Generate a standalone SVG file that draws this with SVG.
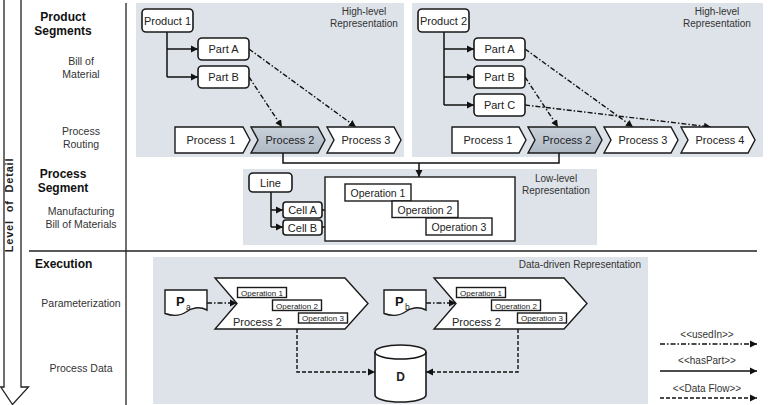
<svg xmlns="http://www.w3.org/2000/svg" width="768" height="405" viewBox="0 0 768 405">
<defs>
<marker id="ah" markerUnits="userSpaceOnUse" markerWidth="8" markerHeight="8" refX="7" refY="4" orient="auto">
<path d="M0,0.5 L7,4 L0,7.5 Z" fill="#111"/>
</marker>
<linearGradient id="hl" x1="0" y1="0" x2="0" y2="1">
<stop offset="0" stop-color="#c9d1da"/>
<stop offset="1" stop-color="#aeb9c5"/>
</linearGradient>
<style>
text{font-family:"Liberation Sans",Arial,sans-serif;fill:#222}
.panel{fill:#dee3e9}
.box{fill:#fff;stroke:#1a1a1a;stroke-width:1.6}
.sq{fill:#fff;stroke:#1a1a1a;stroke-width:1.4}
.n{font-size:11px;text-anchor:middle}
.op{font-size:10.5px;text-anchor:middle}
.sop{font-size:8px;text-anchor:middle}
.side{font-size:10.5px;text-anchor:middle;fill:#333}
.head{font-size:12px;font-weight:bold;text-anchor:middle;fill:#111}
.headl{font-size:12px;font-weight:bold;text-anchor:start;fill:#111}
.lab{font-size:10px;text-anchor:middle;fill:#333}
.labr{font-size:10px;text-anchor:end;fill:#333}
.has{fill:none;stroke:#111;stroke-width:1.5;marker-end:url(#ah)}
.used{fill:none;stroke:#111;stroke-width:1.4;stroke-dasharray:5 2 1.5 2;marker-end:url(#ah)}
.flow{fill:none;stroke:#111;stroke-width:1.4;stroke-dasharray:4 2;marker-end:url(#ah)}
.plain{fill:none;stroke:#111;stroke-width:1.5}
.rule{fill:none;stroke:#222;stroke-width:1.3}
.pl{font-size:13px;font-weight:bold;fill:#111}
.sub{font-size:8.5px;fill:#222}
</style>
</defs>

<!-- left axis -->
<g id="axis">
<path d="M4,-2 V387 H28.5 L12.5,404.5 L0.8,387 H4" fill="#fff"/>
<path d="M4,-2 V387 H0.8 L12.5,404.5 L28.5,387 H21 V-2" fill="none" stroke="#222" stroke-width="1.3"/>
<text transform="translate(13,205) rotate(-90)" font-size="11" font-weight="bold" text-anchor="middle" letter-spacing="0.8" word-spacing="4" fill="#111">Level of Detail</text>
</g>
<g id="grid">
<line class="rule" x1="126" y1="3" x2="126" y2="405"/>
<line class="rule" x1="29" y1="251" x2="757" y2="251"/>
</g>

<!-- side labels -->
<g id="labels">
<text class="head" x="63" y="21">Product</text>
<text class="head" x="63" y="35">Segments</text>
<text class="side" x="81" y="65">Bill of</text>
<text class="side" x="81" y="78">Material</text>
<text class="side" x="81" y="135">Process</text>
<text class="side" x="81" y="148">Routing</text>
<text class="head" x="63" y="178">Process</text>
<text class="head" x="63" y="192">Segment</text>
<text class="side" x="81" y="215">Manufacturing</text>
<text class="side" x="81" y="228">Bill of Materials</text>
<text class="headl" x="35" y="268">Execution</text>
<text class="side" x="81" y="307">Parameterization</text>
<text class="side" x="81" y="372">Process Data</text>
</g>

<!-- panels -->
<g id="panel-high-1">
<rect class="panel" x="136" y="3" width="268" height="154"/>
<text class="lab" x="364" y="15">High-level</text>
<text class="lab" x="364" y="27">Representation</text>
</g>
<g id="panel-high-2">
<rect class="panel" x="412" y="3" width="351" height="154"/>
<text class="lab" x="717" y="15">High-level</text>
<text class="lab" x="717" y="27">Representation</text>
</g>
<g id="panel-low">
<rect class="panel" x="243" y="169" width="354" height="76"/>
<text class="lab" x="556" y="182">Low-level</text>
<text class="lab" x="556" y="194">Representation</text>
</g>
<g id="panel-data">
<rect class="panel" x="153" y="257" width="495" height="147"/>
<text class="labr" x="641" y="268">Data-driven Representation</text>
</g>

<!-- connectors -->
<g id="connectors">
<path class="plain" d="M167,32 V77"/>
<path class="has" d="M167,49 H198"/>
<path class="has" d="M167,77 H198"/>
<path class="plain" d="M444,32 V105"/>
<path class="has" d="M444,49 H474"/>
<path class="has" d="M444,77 H474"/>
<path class="has" d="M444,105 H474"/>
<path class="used" d="M249,49 L356,127"/>
<path class="used" d="M249,77 L282,127"/>
<path class="used" d="M525,49 L633,127"/>
<path class="used" d="M525,77 L558,127"/>
<path class="used" d="M525,105 L711,127"/>
<path class="plain" d="M283,153 V163 H559 V153"/>
<path class="has" d="M419,163 V177"/>
<path class="plain" d="M271,192 V227"/>
<path class="has" d="M271,210 H283"/>
<path class="has" d="M271,227 H283"/>
<path class="used" d="M322,210 H392"/>
<path class="used" d="M322,227 H426"/>
<path class="used" d="M207,303 H237"/>
<path class="used" d="M426,303 H456"/>
<path class="flow" d="M297,329 V372 H375"/>
<path class="flow" d="M518,329 V372 H426"/>
</g>

<!-- panel 1 nodes -->
<g id="product1"><rect class="box" x="142" y="9" width="51" height="23" rx="4"/><text class="n" x="167.5" y="24.5">Product 1</text></g>
<g id="p1-partA"><rect class="box" x="198" y="38" width="51" height="22" rx="4"/><text class="n" x="223.5" y="53">Part A</text></g>
<g id="p1-partB"><rect class="box" x="198" y="66" width="51" height="22" rx="4"/><text class="n" x="223.5" y="81">Part B</text></g>
<g id="p1-process1"><path class="sq" d="M175,127 H243 L250,140 L243,153 H175 Z"/><text class="n" x="211" y="144">Process 1</text></g>
<g id="p1-process2"><path class="sq" style="fill:url(#hl)" d="M251,127 H318 L325,140 L318,153 H251 L258,140 Z"/><text class="n" x="290" y="144">Process 2</text></g>
<g id="p1-process3"><path class="sq" d="M327,127 H394 L401,140 L394,153 H327 L334,140 Z"/><text class="n" x="366" y="144">Process 3</text></g>

<!-- panel 2 nodes -->
<g id="product2"><rect class="box" x="418" y="9" width="51" height="23" rx="4"/><text class="n" x="443.5" y="24.5">Product 2</text></g>
<g id="p2-partA"><rect class="box" x="474" y="38" width="51" height="22" rx="4"/><text class="n" x="499.5" y="53">Part A</text></g>
<g id="p2-partB"><rect class="box" x="474" y="66" width="51" height="22" rx="4"/><text class="n" x="499.5" y="81">Part B</text></g>
<g id="p2-partC"><rect class="box" x="474" y="94" width="51" height="22" rx="4"/><text class="n" x="499.5" y="109">Part C</text></g>
<g id="p2-process1"><path class="sq" d="M452,127 H519 L526,140 L519,153 H452 Z"/><text class="n" x="488" y="144">Process 1</text></g>
<g id="p2-process2"><path class="sq" style="fill:url(#hl)" d="M528,127 H595 L602,140 L595,153 H528 L535,140 Z"/><text class="n" x="567" y="144">Process 2</text></g>
<g id="p2-process3"><path class="sq" d="M604,127 H671 L678,140 L671,153 H604 L611,140 Z"/><text class="n" x="643" y="144">Process 3</text></g>
<g id="p2-process4"><path class="sq" d="M681,127 H748 L755,140 L748,153 H681 L688,140 Z"/><text class="n" x="720" y="144">Process 4</text></g>

<!-- low level nodes -->
<g id="line"><rect class="box" x="249" y="173" width="43" height="19" rx="4"/><text class="n" x="270.5" y="186.5">Line</text></g>
<g id="cellA"><rect class="box" x="283" y="202" width="39" height="16" rx="3"/><text class="n" x="302.5" y="214">Cell A</text></g>
<g id="cellB"><rect class="box" x="283" y="220" width="39" height="15" rx="3"/><text class="n" x="302.5" y="231.5">Cell B</text></g>
<g id="operations">
<rect class="sq" x="325" y="177" width="190" height="64"/>
<rect class="sq" x="345" y="184" width="66" height="17"/><text class="op" x="378" y="196.5">Operation 1</text>
<rect class="sq" x="392" y="201" width="66" height="16.5"/><text class="op" x="425" y="213.5">Operation 2</text>
<rect class="sq" x="426" y="218" width="66" height="17"/><text class="op" x="459" y="230.5">Operation 3</text>
</g>

<!-- execution nodes -->
<g id="param-a">
<path class="sq" d="M165,290 H207 V310 C199,306 191,308 186,312 C180,316 172,316 165,313.5 Z"/>
<text class="pl" x="176" y="306">P</text>
<text class="sub" x="186" y="310">a</text>
</g>
<g id="exec-process2a">
<path class="sq" d="M215,278 H345 L368,303.5 L345,329 H215 L237,303.5 Z"/>
<rect class="sq" x="237.5" y="287.5" width="49" height="10" stroke-width="1.2"/><text class="sop" x="262" y="295.5">Operation 1</text>
<rect class="sq" x="272.5" y="300" width="49" height="10.5" stroke-width="1.2"/><text class="sop" x="297" y="308.5">Operation 2</text>
<rect class="sq" x="298.5" y="313" width="49" height="10" stroke-width="1.2"/><text class="sop" x="323" y="321">Operation 3</text>
<text x="233" y="326" font-size="11">Process 2</text>
</g>
<g id="param-b">
<path class="sq" d="M384,290 H426 V310 C418,306 410,308 405,312 C399,316 391,316 384,313.5 Z"/>
<text class="pl" x="395" y="306">P</text>
<text class="sub" x="405" y="310">b</text>
</g>
<g id="exec-process2b">
<path class="sq" d="M434,278 H564 L587,303.5 L564,329 H434 L456,303.5 Z"/>
<rect class="sq" x="456.5" y="287.5" width="49" height="10" stroke-width="1.2"/><text class="sop" x="481" y="295.5">Operation 1</text>
<rect class="sq" x="491.5" y="300" width="49" height="10.5" stroke-width="1.2"/><text class="sop" x="516" y="308.5">Operation 2</text>
<rect class="sq" x="517.5" y="313" width="49" height="10" stroke-width="1.2"/><text class="sop" x="542" y="321">Operation 3</text>
<text x="452" y="326" font-size="11">Process 2</text>
</g>
<g id="database">
<path class="box" d="M375,352 V395 A25.5,7 0 0 0 426,395 V352 A25.5,7 0 0 0 375,352 Z"/>
<path class="plain" stroke-width="1.6" d="M375,352 A25.5,7 0 0 0 426,352"/>
<text x="400.5" y="381" font-size="12" font-weight="bold" text-anchor="middle" fill="#111">D</text>
</g>

<!-- legend -->
<g id="legend">
<text class="lab" x="707" y="338">&lt;&lt;usedIn&gt;&gt;</text>
<path class="used" d="M660,344 H757"/>
<text class="lab" x="707" y="364">&lt;&lt;hasPart&gt;&gt;</text>
<path class="has" d="M660,371 H757"/>
<text class="lab" x="707" y="392">&lt;&lt;Data Flow&gt;&gt;</text>
<path class="flow" d="M660,398 H757"/>
</g>
</svg>
